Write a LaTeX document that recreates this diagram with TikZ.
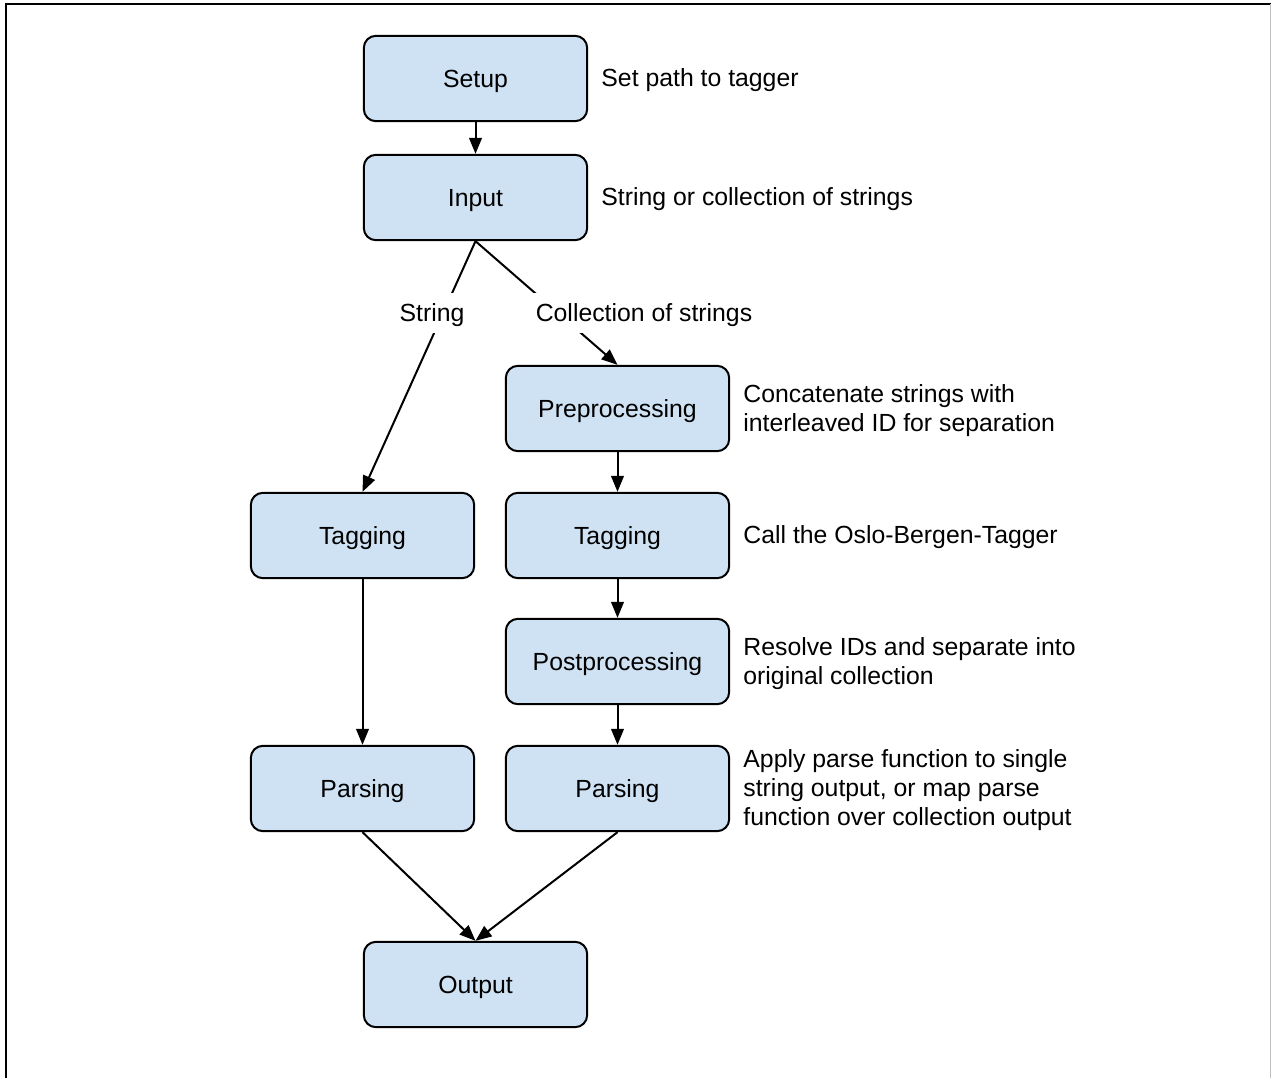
\documentclass[tikz,border=0pt]{standalone}
\usepackage{fontspec}
\setmainfont{Liberation Sans}
\usetikzlibrary{arrows.meta,positioning}
\definecolor{boxfill}{HTML}{CFE2F3}
\begin{document}
\begin{tikzpicture}[x=0.75pt,y=-0.75pt,
  stage/.style={draw=black, line width=1.5pt, fill=boxfill, rounded corners=9pt,
    minimum width=167.5pt, minimum height=64pt, inner sep=0pt,
    text height=13.3pt, text depth=0pt,
    font=\fontsize{18.6pt}{21.75pt}\selectfont},
  note/.style={inner sep=0pt, align=left, yshift=-1.5pt, font=\fontsize{18.6pt}{21.75pt}\selectfont},
  conn/.style={line width=1.5pt, -{Triangle[length=12pt,width=9.5pt]}},
  lbl/.style={fill=white, inner xsep=3pt, inner ysep=0pt, text height=21.65pt, text depth=8.35pt,
    font=\fontsize{18.6pt}{21.75pt}\selectfont},
  frame/.style={line width=1.5pt, draw=black}
]
\useasboundingbox (0,0) rectangle (1271,1078);
\fill[white] (0,0) rectangle (1271,1078);
% frame
\draw[frame] (6.3,1078) -- (6.3,4.3) -- (1271,4.3);
\draw[line width=0.8pt, draw=black!25] (1270.4,4.3) -- (1270.4,1078);

% stages
\node[stage] (setup) at (475.5,78.5) {Setup};
\node[stage] (input) at (475.5,197.5) {Input};
\node[stage] (pre)   at (617.5,408.5) {Preprocessing};
\node[stage] (tagL)  at (362.5,535.5) {Tagging};
\node[stage] (tagR)  at (617.5,535.5) {Tagging};
\node[stage] (post)  at (617.5,661.5) {Postprocessing};
\node[stage] (parL)  at (362.5,788.5) {Parsing};
\node[stage] (parR)  at (617.5,788.5) {Parsing};
\node[stage] (out)   at (475.5,984.5) {Output};

% notes
\node[note, right=9.75pt of setup] (nsetup) {Set path to tagger};
\node[note, right=9.75pt of input] (ninput) {String or collection of strings};
\node[note, right=9.75pt of pre] (npre) {Concatenate strings with\\interleaved ID for separation};
\node[note, right=9.75pt of tagR] (ntag) {Call the Oslo-Bergen-Tagger};
\node[note, right=9.75pt of post] (npost) {Resolve IDs and separate into\\original collection};
\node[note, right=9.75pt of parR] (npar) {Apply parse function to single\\string output, or map parse\\function over collection output};

% connectors
\draw[conn] (setup) -- (input);
\draw[conn] (input.south) -- node[lbl, pos=0.287, xshift=-8.3pt] (lstr) {String} (tagL.north);
\draw[conn] (input.south) -- node[lbl, pos=0.581, xshift=64.5pt] (lcol) {Collection of strings} (pre.north);
\draw[conn] (pre) -- (tagR);
\draw[conn] (tagR) -- (post);
\draw[conn] (post) -- (parR);
\draw[conn] (tagL) -- (parL);
\draw[conn] (parL.south) -- (out.north);
\draw[conn] (parR.south) -- (out.north);
\end{tikzpicture}
\end{document}
